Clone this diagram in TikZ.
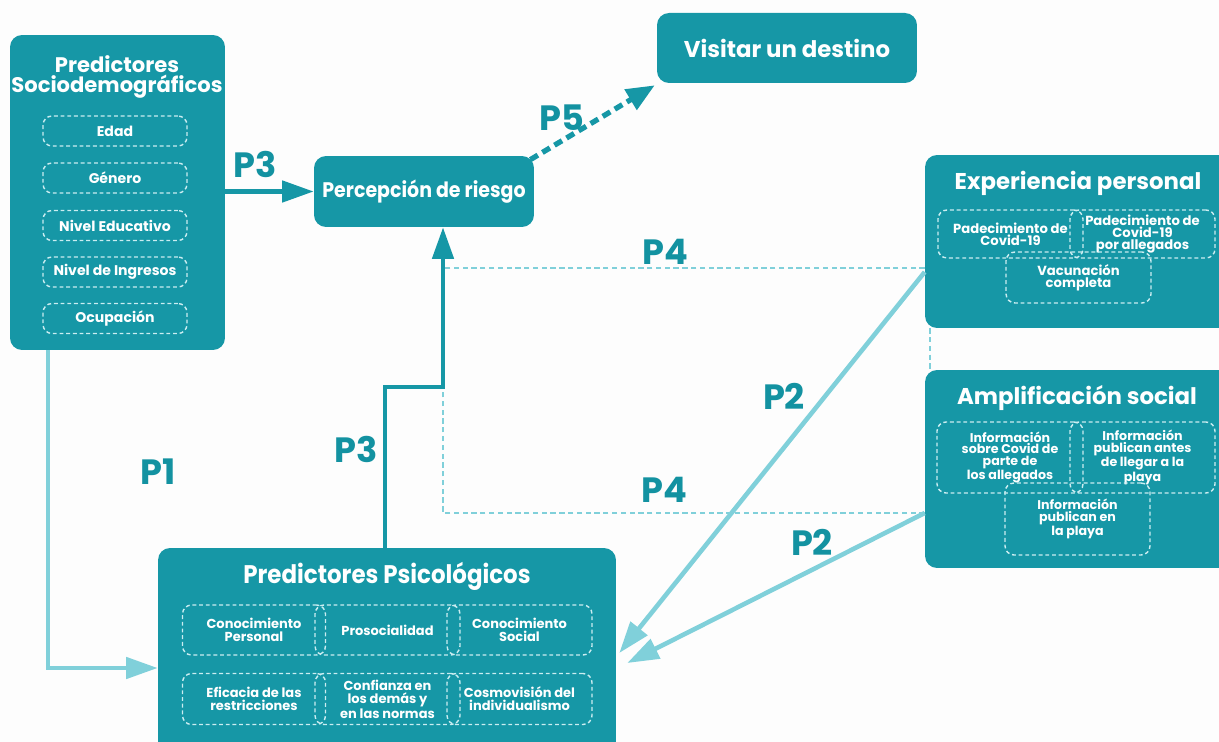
\documentclass[tikz,border=0pt]{standalone}
\usepackage{fontspec}
\setmainfont{Poppins}[FakeStretch=0.9]
\newfontfamily\widefont{Poppins}
\usetikzlibrary{arrows.meta,positioning}
\definecolor{tealbox}{HTML}{1697A6}
\definecolor{tealtext}{HTML}{1392A1}
\definecolor{lightline}{HTML}{80D0DA}
\definecolor{dashline}{HTML}{CBEDF1}
\definecolor{bgcol}{HTML}{FDFDFD}

\begin{document}
\begin{tikzpicture}[x=0.02cm, y=-0.02cm,
  bigbox/.style={fill=tealbox, rounded corners=0.24cm, text=white, font=\bfseries\fontsize{12}{12}\selectfont},
  boxtitle/.style={text=white, align=center, font=\widefont\bfseries\fontsize{12}{9.5}\selectfont},
  item/.style={draw=dashline, dash pattern=on 2.2pt off 1.6pt, line width=0.8pt, rounded corners=0.18cm,
    text=white, align=center, inner sep=1pt, font=\widefont\bfseries\fontsize{7.4}{7.4}\selectfont},
  plabel/.style={text=tealtext, font=\widefont\bfseries\fontsize{20}{20}\selectfont},
  lightarrow/.style={draw=lightline, line width=2.6pt, -{Triangle[length=18pt,width=12pt]}},
  darkarrow/.style={draw=tealbox, line width=2.6pt, -{Triangle[length=18pt,width=12pt]}},
  p4line/.style={draw=lightline, line width=1.3pt, dash pattern=on 3pt off 2pt}]
\useasboundingbox (0,0) rectangle (1219,742);
\fill[bgcol] (0,0) rectangle (1219,742);

% main boxes
\node[bigbox, minimum width=4.3cm, minimum height=6.3cm] (socio) at (117.5,192.5) {};
\node[bigbox, minimum width=4.4cm, minimum height=1.42cm] (riesgo) at (424,191.5) {Percepción de riesgo};
\node[bigbox, minimum width=5.2cm, minimum height=1.4cm, font=\widefont\bfseries\fontsize{13}{13}\selectfont] (destino) at (787,48) {Visitar un destino};
\node[bigbox, minimum width=6.2cm, minimum height=3.46cm] (exper) at (1080,241.5) {};
\node[bigbox, minimum width=6.2cm, minimum height=3.96cm] (ampli) at (1080,469) {};
\node[bigbox, minimum width=9.16cm, minimum height=4.2cm] (psych) at (387,653) {};

% titles
\node[boxtitle] (sociot) at (117,77) {Predictores\\Sociodemográficos};
\node[boxtitle, anchor=base, font=\widefont\bfseries\fontsize{13}{13}\selectfont] (expert) at (1078,190) {Experiencia personal};
\node[boxtitle, anchor=base, font=\widefont\bfseries\fontsize{13}{13}\selectfont] (amplit) at (1077,405) {Amplificación social};
\node[boxtitle, anchor=base, font=\bfseries\fontsize{14.5}{14.5}\selectfont] (psycht) at (387,583) {Predictores Psicológicos};

% sociodemographic items
\foreach \y/\t [count=\i] in {131/Edad, 178/Género, 225.5/Nivel Educativo, 272/Nivel de Ingresos, 318.5/Ocupación}
  \node[item, minimum width=2.88cm, minimum height=0.6cm, font=\widefont\bfseries\fontsize{8}{8}\selectfont] (s\i) at (115,\y) {\t};

% psychological items
\node[item, minimum width=2.86cm, minimum height=1cm] (conper) at (254,630) {Conocimiento\\Personal};
\node[item, minimum width=2.9cm, minimum height=1cm] (prosoc) at (387.5,630) {Prosocialidad};
\node[item, minimum width=2.9cm, minimum height=1cm] (consoc) at (519.5,630) {Conocimiento\\Social};
\node[item, minimum width=2.86cm, minimum height=1.02cm] (eficacia) at (254,699) {Eficacia de las\\restricciones};
\node[item, minimum width=2.9cm, minimum height=1.02cm] (confianza) at (387.5,699) {Confianza en\\los demás y\\en las normas};
\node[item, minimum width=2.9cm, minimum height=1.02cm] (cosmo) at (519.5,699) {Cosmovisión del\\individualismo};

% personal experience items
\node[item, minimum width=2.9cm, minimum height=0.96cm, font=\widefont\bfseries\fontsize{7.5}{6.6}\selectfont] (padece) at (1010.5,234) {Padecimiento de\\Covid-19};
\node[item, minimum width=2.9cm, minimum height=0.96cm, font=\widefont\bfseries\fontsize{7.5}{6.6}\selectfont] (padalle) at (1142.5,234) {Padecimiento de\\Covid-19\\por allegados};
\node[item, minimum width=2.9cm, minimum height=1.02cm, font=\widefont\bfseries\fontsize{7.5}{6.6}\selectfont] (vacuna) at (1078.5,277.5) {Vacunación\\completa};

% social amplification items
\node[item, minimum width=2.92cm, minimum height=1.42cm, font=\widefont\bfseries\fontsize{7.2}{6.6}\selectfont] (infoalle) at (1010,457.5) {Información\\sobre Covid de\\parte de\\los allegados};
\node[item, minimum width=2.9cm, minimum height=1.42cm, font=\widefont\bfseries\fontsize{7.2}{6.6}\selectfont] (infoantes) at (1142.5,457.5) {Información\\publican antes\\de llegar a la\\playa};
\node[item, minimum width=2.9cm, minimum height=1.44cm, font=\widefont\bfseries\fontsize{7.2}{6.6}\selectfont] (infoplaya) at (1077.5,519) {Información\\publican en\\la playa};

% connectors
\coordinate (p1corner) at (48,668);
\coordinate (p3bend) at (385,387);
\coordinate (p4top) at (443,268);
\coordinate (p4bot) at (443,513);
\draw[p4line] (exper.west |- p4top) -- (p4top);
\draw[p4line] (ampli.west |- p4bot) -- (p4bot) -- (p3bend -| p4bot);
\draw[p4line] ([xshift=0.1cm]exper.south west) -- ([xshift=0.1cm]ampli.north west);
\draw[lightarrow] (socio.south -| p1corner) |- (psych.west |- p1corner);
\draw[darkarrow] (socio.east |- riesgo.west) -- (riesgo.west);
\draw[darkarrow] (psych.north -| p3bend) -- (p3bend) -| (riesgo.south -| p4top);
\draw[lightarrow] (exper.west |- 0,272) -- ([xshift=0.06cm]psych.east);
\draw[lightarrow] (ampli.west |- p4bot) -- ([xshift=0.22cm,yshift=-0.2cm]psych.east);
\draw[draw=tealbox, line width=3pt, dash pattern=on 5pt off 3pt, -{Triangle[length=16pt,width=13pt]}] ([shift={(-4,4)}]riesgo.north east) -- ([shift={(-2,2)}]destino.south west);

% path labels
\node[plabel] (l3a) at (255,164) {P3};
\node[plabel] (l5) at (562,118) {P5};
\node[plabel] (l4a) at (665,252) {P4};
\node[plabel] (l2a) at (784,396) {P2};
\node[plabel] (l3b) at (356,449) {P3};
\node[plabel] (l1) at (158,472) {P1};
\node[plabel] (l4b) at (664,490) {P4};
\node[plabel] (l2b) at (812,542) {P2};
\end{tikzpicture}
\end{document}
